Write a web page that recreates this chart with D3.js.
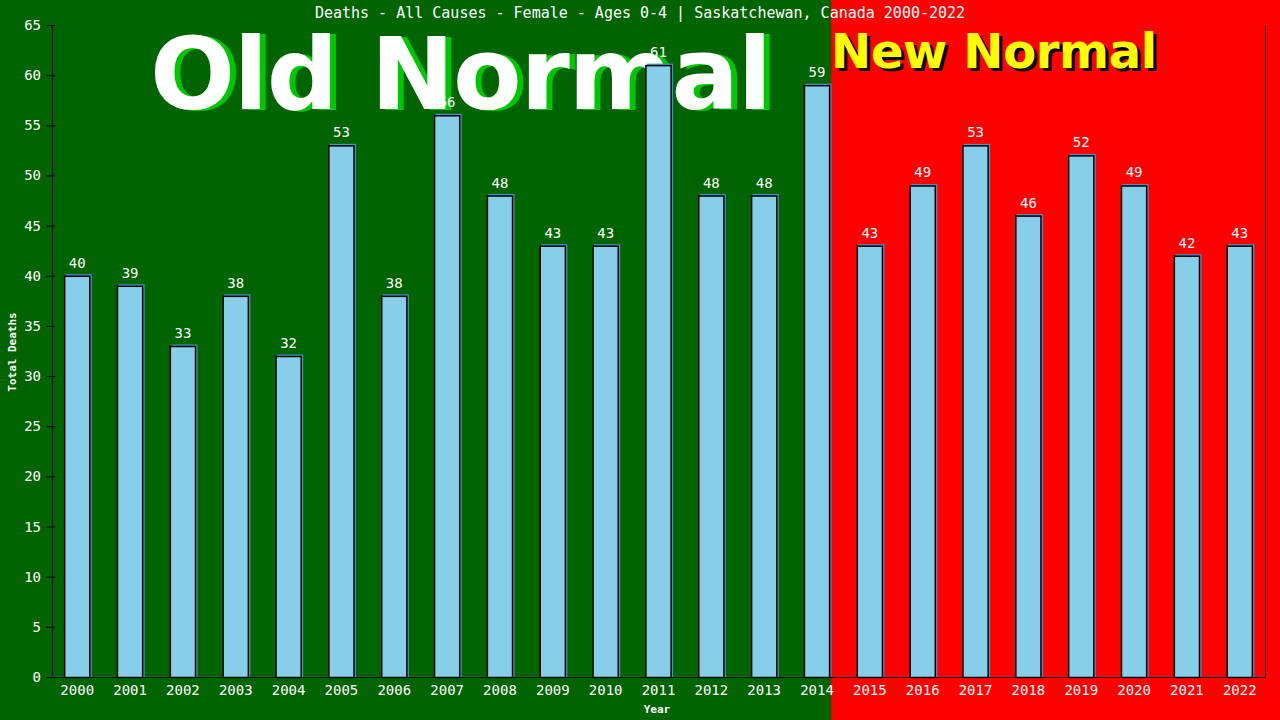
<!DOCTYPE html>
<html>
<head>
<meta charset="utf-8">
<script src="https://cdn.jsdelivr.net/npm/d3@7"></script>
<style>
  body { margin: 0; background: #000; }
  text { font-family: "DejaVu Sans Mono", monospace; }
</style>
</head>
<body>
<div id="chart"></div>
<script>
var width = 1280,
    height = 720;

var years = ["2000","2001","2002","2003","2004","2005","2006","2007","2008","2009","2010","2011",
  "2012","2013","2014","2015","2016","2017","2018","2019","2020","2021","2022"];
var deaths = [40, 39, 33, 38, 32, 53, 38, 56, 48, 43, 43, 61, 48, 48, 59, 43, 49, 53, 46, 52, 49, 42, 43];
var yTicks = [0, 5, 10, 15, 20, 25, 30, 35, 40, 45, 50, 55, 60, 65];
var lastOld = "2014";

var margin = {top: 25, right: 15, bottom: 43, left: 52};

var svg = d3.select("#chart").append("svg")
  .attr("width", width)
  .attr("height", height);

var x = d3.scaleBand()
  .domain(years)
  .range([margin.left, width - margin.right])
  .paddingInner(0.505)
  .paddingOuter(0.23);

var y = d3.scaleLinear()
  .domain([0, 65])
  .range([height - margin.bottom, margin.top]);

// background halves - old normal / new normal
var split = x(lastOld) + x.bandwidth() + 1;
svg.append("rect")
  .attr("x", 0).attr("y", 0)
  .attr("width", split).attr("height", height)
  .attr("fill", "#006400");
svg.append("rect")
  .attr("x", split).attr("y", 0)
  .attr("width", width - split).attr("height", height)
  .attr("fill", "#ff0000");

// big labels
svg.append("text")
  .attr("x", 156).attr("y", 110)
  .style("font-family", "DejaVu Sans, sans-serif")
  .attr("font-weight", "bold")
  .attr("font-size", 100)
  .attr("textLength", 622)
  .attr("fill", "#00c800")
  .text("Old Normal");
svg.append("text")
  .attr("x", 150).attr("y", 109)
  .style("font-family", "DejaVu Sans, sans-serif")
  .attr("font-weight", "bold")
  .attr("font-size", 100)
  .attr("textLength", 622)
  .attr("fill", "#ffffff")
  .text("Old Normal");

svg.append("text")
  .attr("x", split + 3).attr("y", 71)
  .style("font-family", "DejaVu Sans, sans-serif")
  .attr("font-weight", "bold")
  .attr("font-size", 48)
  .attr("textLength", 326)
  .attr("fill", "#000")
  .text("New Normal");
svg.append("text")
  .attr("x", split).attr("y", 68)
  .style("font-family", "DejaVu Sans, sans-serif")
  .attr("font-weight", "bold")
  .attr("font-size", 48)
  .attr("textLength", 326)
  .attr("fill", "#ffff00")
  .text("New Normal");

// bars - shadow then bar
var bars = svg.selectAll("g.bar")
  .data(deaths)
  .enter().append("g")
  .attr("class", "bar");

bars.append("rect")
  .attr("x", function(d, i){ return x(years[i]) + 1.5 })
  .attr("y", function(d){ return y(d) - 1.5 })
  .attr("width", x.bandwidth())
  .attr("height", function(d){ return y(0) - y(d) + 1.5 })
  .attr("fill", "#4a90c0");

bars.append("rect")
  .attr("x", function(d, i){ return x(years[i]) + 0.5 })
  .attr("y", function(d){ return y(d) + 0.5 })
  .attr("width", x.bandwidth() - 1)
  .attr("height", function(d){ return y(0) - y(d) })
  .attr("fill", "#87ceeb")
  .attr("stroke", "#000")
  .attr("stroke-width", 1.5);

bars.append("text")
  .attr("x", function(d, i){ return x(years[i]) + x.bandwidth() / 2 })
  .attr("y", function(d){ return y(d) - 8 })
  .attr("text-anchor", "middle")
  .attr("font-size", 14)
  .attr("fill", "#fff")
  .text(function(d){ return d });

// axes
var yAxis = svg.append("g")
  .attr("transform", "translate(" + margin.left + ",0)")
  .call(d3.axisLeft(y).tickValues(yTicks).tickSize(5).tickPadding(6));
yAxis.select(".domain").attr("stroke", "#000").attr("d", "M0.5," + margin.top + "V" + (y(0) + 0.5));
yAxis.selectAll(".tick line")
  .attr("stroke", "#000")
  .attr("x1", 3)
  .attr("x2", -6);
yAxis.selectAll(".tick text")
  .attr("fill", "#fff")
  .attr("font-size", 14)
  .style("font-family", "DejaVu Sans Mono, monospace")
  .attr("x", -11);

var xAxis = svg.append("g")
  .attr("transform", "translate(0," + y(0) + ")")
  .call(d3.axisBottom(x).tickSize(0).tickPadding(8));
xAxis.select(".domain").attr("stroke", "#000")
  .attr("d", "M" + (margin.left - 6) + ",0.5H" + (width - margin.right + 0.5));
xAxis.selectAll(".tick text")
  .attr("fill", "#fff")
  .attr("font-size", 14)
  .style("font-family", "DejaVu Sans Mono, monospace");

// right frame line
svg.append("line")
  .attr("x1", width - margin.right + 0.5).attr("x2", width - margin.right + 0.5)
  .attr("y1", margin.top).attr("y2", y(0))
  .attr("stroke", "#000");

// titles
svg.append("text")
  .attr("x", 640).attr("y", 18)
  .attr("text-anchor", "middle")
  .attr("font-size", 15)
  .attr("fill", "#fff")
  .text("Deaths - All Causes - Female - Ages 0-4 | Saskatchewan, Canada 2000-2022");

svg.append("text")
  .attr("transform", "translate(16," + 352 + ") rotate(-90)")
  .attr("text-anchor", "middle")
  .attr("font-size", 11)
  .attr("font-weight", "bold")
  .attr("fill", "#fff")
  .text("Total Deaths");

svg.append("text")
  .attr("x", 657).attr("y", 713)
  .attr("text-anchor", "middle")
  .attr("font-size", 11)
  .attr("font-weight", "bold")
  .attr("fill", "#fff")
  .text("Year");
</script>
</body>
</html>
